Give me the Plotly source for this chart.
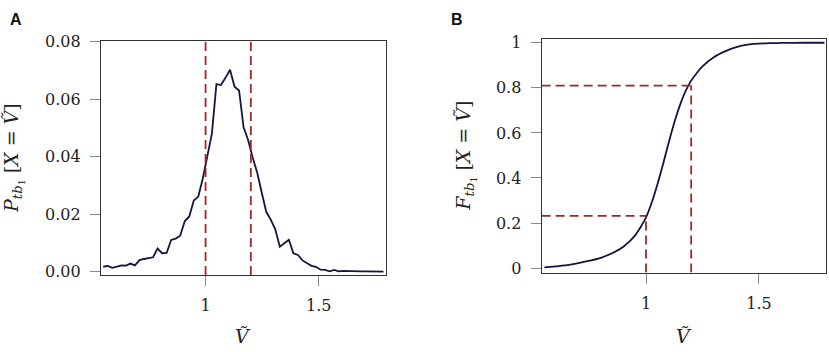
import plotly.graph_objects as go

# ---- data ----
v_pdf = [0.548, 0.568, 0.588, 0.608, 0.628, 0.648, 0.668, 0.688, 0.708, 0.728,
         0.748, 0.768, 0.788, 0.808, 0.828, 0.848, 0.868, 0.888, 0.908, 0.928,
         0.948, 0.968, 0.988, 1.008, 1.028, 1.048, 1.068, 1.088, 1.108, 1.128,
         1.148, 1.168, 1.188, 1.208, 1.228, 1.248, 1.268, 1.288, 1.308, 1.328,
         1.348, 1.368, 1.388, 1.408, 1.428, 1.448, 1.468, 1.488, 1.508, 1.528,
         1.548, 1.568, 1.588, 1.608, 1.628, 1.648, 1.668, 1.688, 1.708, 1.728,
         1.748, 1.768, 1.786]
p_pdf = [0.0017, 0.0020, 0.0013, 0.0018, 0.0022, 0.0021, 0.0028, 0.0022, 0.0040, 0.0044,
         0.0047, 0.0050, 0.0080, 0.0064, 0.0065, 0.0110, 0.0115, 0.0125, 0.0175, 0.0192,
         0.0247, 0.0261, 0.0325, 0.0400, 0.0480, 0.0652, 0.0649, 0.0674, 0.0702, 0.0643,
         0.0630, 0.0502, 0.0458, 0.0397, 0.0345, 0.0275, 0.0208, 0.0181, 0.0147, 0.0087,
         0.0098, 0.0111, 0.0064, 0.0058, 0.0039, 0.0028, 0.0020, 0.0017, 0.0007, 0.0006,
         0.0001, 0.0006, 0.0001, 0.0003, 0.0002, 0.0001, 0.0002, 0.0001, 0.0001, 0.0001,
         0.0000, 0.0000, 0.0000]

v_cdf = [0.55, 0.60, 0.65, 0.70, 0.75, 0.80, 0.85, 0.90, 0.925, 0.95, 0.975, 1.00,
         1.025, 1.05, 1.075, 1.10, 1.125, 1.15, 1.175, 1.20, 1.225, 1.25, 1.30, 1.35,
         1.40, 1.45, 1.50, 1.55, 1.60, 1.70, 1.79]
f_cdf = [0.003, 0.008, 0.013, 0.022, 0.033, 0.046, 0.066, 0.095, 0.117, 0.143, 0.180, 0.225,
         0.290, 0.370, 0.460, 0.555, 0.645, 0.722, 0.785, 0.832, 0.866, 0.895, 0.936, 0.962,
         0.981, 0.992, 0.996, 0.998, 0.999, 1.000, 1.000]

x_ticks = [1, 1.5]
x_tick_labels = ["1", "1.5"]
pdf_ticks = [0.00, 0.02, 0.04, 0.06, 0.08]
pdf_tick_labels = ["0.00", "0.02", "0.04", "0.06", "0.08"]
cdf_ticks = [0, 0.2, 0.4, 0.6, 0.8, 1]
cdf_tick_labels = ["0", "0.2", "0.4", "0.6", "0.8", "1"]

v_marks = [1.0, 1.2]          # highlighted values of V~
f_marks = [0.232, 0.81]       # CDF at those values

x_range = [0.538, 1.797]
pdf_range = [-0.00113, 0.0802]
cdf_range = [-0.0196, 1.018]

# ---- styles ----
CURVE = "#15153d"
RED = "#a02828"
FONT = "DejaVu Serif"

fig = go.Figure()

fig.add_trace(go.Scatter(x=v_pdf, y=p_pdf, mode="lines",
                         line=dict(color=CURVE, width=1.8),
                         xaxis="x", yaxis="y", showlegend=False, hoverinfo="skip"))
for v in v_marks:
    fig.add_trace(go.Scatter(x=[v, v], y=pdf_range, mode="lines",
                             line=dict(color=RED, width=1.8, dash="9px,5px"),
                             xaxis="x", yaxis="y", showlegend=False, hoverinfo="skip"))

fig.add_trace(go.Scatter(x=v_cdf, y=f_cdf, mode="lines", line_shape="spline",
                         line=dict(color=CURVE, width=1.8, smoothing=0.8),
                         xaxis="x2", yaxis="y2", showlegend=False, hoverinfo="skip"))
for v, f in zip(v_marks, f_marks):
    fig.add_trace(go.Scatter(x=[x_range[0], v], y=[f, f], mode="lines",
                             line=dict(color=RED, width=1.8, dash="9px,5px"),
                             xaxis="x2", yaxis="y2", showlegend=False, hoverinfo="skip"))
    fig.add_trace(go.Scatter(x=[v, v], y=[cdf_range[0], f], mode="lines",
                             line=dict(color=RED, width=1.8, dash="9px,5px"),
                             xaxis="x2", yaxis="y2", showlegend=False, hoverinfo="skip"))

tickfont = dict(family=FONT, size=16, color="#222")
common_x = dict(range=x_range, tickvals=x_ticks, ticktext=x_tick_labels, ticks="outside",
                ticklen=10, tickcolor="#888", tickwidth=1.3, showline=True, linecolor="#333",
                linewidth=1.2, mirror=True, showgrid=False, zeroline=False, tickfont=tickfont,
                ticklabelstandoff=6)
common_y = dict(ticks="outside", ticklen=10, tickcolor="#888", tickwidth=1.3, showline=True,
                linecolor="#333", linewidth=1.2, mirror=True, showgrid=False, zeroline=False,
                tickfont=tickfont, ticklabelstandoff=6)

fig.update_layout(
    width=829, height=352,
    margin=dict(l=0, r=0, t=0, b=0),
    paper_bgcolor="white", plot_bgcolor="white",
    xaxis=dict(domain=[0.1218, 0.4656], anchor="y", **common_x),
    yaxis=dict(domain=[0.211, 0.905], anchor="x", range=pdf_range,
               tickvals=pdf_ticks, ticktext=pdf_tick_labels, **common_y),
    xaxis2=dict(domain=[0.6534, 0.9964], anchor="y2", **common_x),
    yaxis2=dict(domain=[0.2179, 0.9119], anchor="x2", range=cdf_range,
                tickvals=cdf_ticks, ticktext=cdf_tick_labels, **common_y),
)

title_font = dict(family=FONT, size=19, color="#222")
annotations = [
    dict(text="<b>A</b>", x=8, y=352 - 11),
    dict(text="<b>B</b>", x=449, y=352 - 11),
]
for a in annotations:
    fig.add_annotation(x=a["x"] / 829, y=a["y"] / 352, xref="paper", yref="paper",
                       text=a["text"], showarrow=False, xanchor="left", yanchor="middle",
                       font=dict(family="Liberation Sans", size=16, color="#111"))

# axis titles
fig.add_annotation(x=0.5, xref="x domain", y=(352 - 342) / 352, yref="paper",
                   yanchor="middle", text="<i>Ṽ</i>", showarrow=False, font=title_font)
fig.add_annotation(x=0.5, xref="x2 domain", y=(352 - 342) / 352, yref="paper",
                   yanchor="middle", text="<i>Ṽ</i>", showarrow=False, font=title_font)
fig.add_annotation(x=14 / 829, xref="paper", y=0.5, yref="y domain", textangle=-90,
                   xanchor="center", yanchor="middle",
                   text="<i>P</i><sub><i>tb</i><sub>1</sub></sub> [<i>X</i> = <i>Ṽ</i>]",
                   showarrow=False, font=title_font)
fig.add_annotation(x=466 / 829, xref="paper", y=0.5, yref="y2 domain", textangle=-90,
                   xanchor="center", yanchor="middle",
                   text="<i>F</i><sub><i>tb</i><sub>1</sub></sub> [<i>X</i> = <i>Ṽ</i>]",
                   showarrow=False, font=title_font)

fig.write_html("out.html", config={"displayModeBar": False},
               post_script="document.body.style.margin='0';document.body.style.overflow='hidden';")
